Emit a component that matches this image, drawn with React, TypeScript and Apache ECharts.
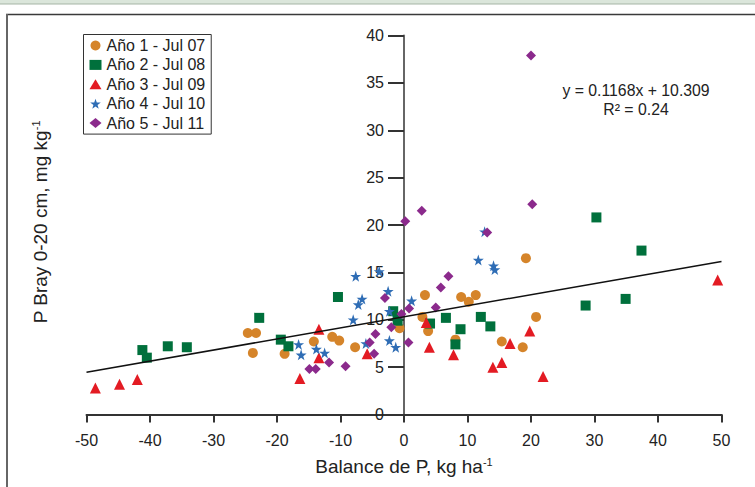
import React, { useEffect, useRef } from 'react';
import * as echarts from 'echarts';

const seriesNames = ['Año 1 - Jul 07', 'Año 2 - Jul 08', 'Año 3 - Jul 09', 'Año 4 - Jul 10', 'Año 5 - Jul 11'];

const ano1: number[][] = [
  [-24.6, 8.6], [-23.3, 8.6], [-23.8, 6.5], [-18.8, 6.4], [-14.2, 7.7], [-11.3, 8.2], [-10.2, 7.8],
  [-7.7, 7.1], [-0.7, 9.1], [2.9, 10.3], [3.3, 12.6], [3.8, 8.8], [8.1, 7.9], [9.0, 12.4], [10.2, 11.9],
  [11.3, 12.6], [15.4, 7.7], [18.7, 7.1], [19.2, 16.5], [20.8, 10.3],
];
const ano2: number[][] = [
  [-41.2, 6.8], [-40.5, 6.0], [-37.2, 7.2], [-34.2, 7.1], [-22.8, 10.2], [-19.4, 7.9], [-18.2, 7.2],
  [-10.4, 12.4], [-1.7, 10.9], [-1.0, 9.9], [4.1, 9.6], [6.6, 10.2], [8.9, 9.0], [8.1, 7.4], [12.1, 10.3],
  [13.6, 9.3], [28.6, 11.5], [30.3, 20.8], [34.9, 12.2], [37.4, 17.3],
];
const ano3: number[][] = [
  [-48.6, 2.8], [-44.8, 3.2], [-42.0, 3.7], [-16.4, 3.8], [-13.4, 9.0], [-13.4, 6.0], [-5.8, 6.4],
  [3.5, 9.7], [4.0, 7.1], [7.8, 6.3], [14.0, 5.0], [15.4, 5.5], [16.7, 7.5], [19.8, 8.8], [21.9, 4.0],
  [49.4, 14.2],
];
const ano4: number[][] = [
  [-16.6, 7.4], [-16.2, 6.3], [-13.8, 6.9], [-12.5, 6.5], [-8.0, 10.0], [-7.6, 14.6], [-7.2, 11.6],
  [-6.6, 12.2], [-6.0, 7.5], [-3.9, 15.1], [-2.5, 13.0], [-2.3, 10.9], [-2.3, 7.8], [-1.3, 7.1],
  [1.2, 12.0], [11.7, 16.3], [12.7, 19.3], [14.1, 15.7], [14.3, 15.3],
];
const ano5: number[][] = [
  [-14.9, 4.8], [-13.9, 4.8], [-11.8, 5.5], [-9.2, 5.1], [-5.4, 7.6], [-4.7, 6.4], [-4.5, 8.5],
  [-3.0, 12.3], [-2.0, 9.2], [-0.4, 10.6], [0.2, 20.4], [0.7, 7.6], [0.8, 11.2], [2.8, 21.5],
  [5.0, 11.3], [5.8, 13.4], [7.0, 14.6], [13.1, 19.2], [20.0, 37.9], [20.2, 22.2],
];

const slope = 0.1168;
const intercept = 10.309;
const xRange = [-50, 50];
const yRange = [0, 40];
const equationText = 'y = 0.1168x + 10.309';
const r2Text = 'R² = 0.24';

const FONT = '"Liberation Sans", Arial, sans-serif';
const STAR = 'path://M50,0 L61.8,35.1 L98.1,35.1 L68.8,56.7 L79.4,91 L50,70 L20.6,91 L31.2,56.7 L1.9,35.1 L38.2,35.1 Z';

const GRID_LEFT = 86.5;
const GRID_RIGHT = 33.5;
const CHART_W = 755;

export default function App() {
  const ref = useRef<HTMLDivElement>(null);
  useEffect(() => {
    const chart = echarts.init(ref.current!, null, { renderer: 'svg' });
    const trend = xRange.map((x) => [x, slope * x + intercept]);
    // place the y axis at x = 0 of the x scale
    const plotW = CHART_W - GRID_LEFT - GRID_RIGHT;
    const yAxisOffset = -((0 - xRange[0]) / (xRange[1] - xRange[0])) * plotW;
    const mk = (name: string, data: number[][], symbol: string, size: number, color: string) => ({
      name,
      type: 'scatter',
      data,
      symbol,
      symbolSize: size,
      itemStyle: { color, opacity: 1 },
      z: 3,
    });
    chart.setOption({
      animation: false,
      backgroundColor: '#ffffff',
      textStyle: { fontFamily: FONT },
      grid: { left: GRID_LEFT, right: GRID_RIGHT, top: 35.5, bottom: 72.5, containLabel: false },
      legend: {
        data: seriesNames,
        orient: 'vertical',
        left: 83.5,
        top: 34.5,
        padding: [3, 6, 3, 6],
        itemGap: 3.4,
        itemWidth: 12,
        itemHeight: 10,
        borderColor: '#333',
        borderWidth: 1,
        backgroundColor: '#fff',
        textStyle: { fontSize: 16, color: '#222', fontFamily: FONT, lineHeight: 16 },
      },
      xAxis: {
        type: 'value',
        min: xRange[0],
        max: xRange[1],
        interval: 10,
        splitLine: { show: false },
        axisLine: { onZero: false, lineStyle: { color: '#333', width: 2 } },
        axisTick: { length: 8, lineStyle: { color: '#333', width: 2 } },
        axisLabel: { margin: 18, fontSize: 16, color: '#222', fontFamily: FONT },
        name: '{a|Balance de P, kg ha}{s|-1}',
        nameLocation: 'middle',
        nameGap: 42,
        nameTextStyle: {
          rich: {
            a: { fontSize: 19, color: '#222', fontFamily: FONT, lineHeight: 20 },
            s: { fontSize: 11, color: '#222', fontFamily: FONT, verticalAlign: 'top', lineHeight: 20, padding: [0, 0, 8, 0] },
          },
        },
      },
      yAxis: {
        type: 'value',
        min: yRange[0],
        max: yRange[1],
        interval: 5,
        offset: yAxisOffset,
        splitLine: { show: false },
        axisLine: { onZero: false, lineStyle: { color: '#666', width: 2 } },
        axisTick: { length: 16, lineStyle: { color: '#333', width: 2 } },
        axisLabel: { margin: 20, fontSize: 16, color: '#222', fontFamily: FONT },
      },
      series: [
        mk(seriesNames[0], ano1, 'circle', 10, '#d5842a'),
        mk(seriesNames[1], ano2, 'rect', 10, '#00703c'),
        mk(seriesNames[2], ano3, 'triangle', 11, '#e31b23'),
        mk(seriesNames[3], ano4, STAR, 11, '#2f6db5'),
        mk(seriesNames[4], ano5, 'diamond', 10, '#8b2a8c'),
        {
          name: 'trend',
          type: 'line',
          data: trend,
          showSymbol: false,
          symbol: 'none',
          lineStyle: { color: '#111', width: 1.5 },
          z: 4,
          silent: true,
        },
      ],
      graphic: [
        { type: 'rect', left: 0, top: 0, shape: { x: 0, y: 0, width: 755, height: 4 }, style: { fill: '#dbe6db' }, silent: true },
        { type: 'line', shape: { x1: 0, y1: 4, x2: 755, y2: 4 }, style: { stroke: '#a5b5a5', lineWidth: 1 }, silent: true },
        { type: 'line', shape: { x1: 6, y1: 14.5, x2: 755, y2: 14.5 }, style: { stroke: '#3a3a3a', lineWidth: 1.5 }, silent: true },
        { type: 'line', shape: { x1: 7, y1: 14, x2: 7, y2: 487 }, style: { stroke: '#666', lineWidth: 2 }, silent: true },
        {
          type: 'text',
          x: 636,
          y: 90,
          style: { text: equationText, fontSize: 15.8, fill: '#222', fontFamily: FONT, align: 'center', verticalAlign: 'middle' },
        },
        {
          type: 'text',
          x: 636,
          y: 109,
          style: { text: r2Text, fontSize: 15.8, fill: '#222', fontFamily: FONT, align: 'center', verticalAlign: 'middle' },
        },
        {
          type: 'text',
          x: 40,
          y: 222,
          rotation: Math.PI / 2,
          style: {
            text: '{a|P Bray 0-20 cm, mg kg}{s|-1}',
            align: 'center',
            verticalAlign: 'middle',
            rich: {
              a: { fontSize: 19, fill: '#222', fontFamily: FONT, lineHeight: 20 },
              s: { fontSize: 11, fill: '#222', fontFamily: FONT, verticalAlign: 'top', lineHeight: 20 },
            },
          },
        },
      ],
    });
    return () => chart.dispose();
  }, []);
  return <div ref={ref} style={{ position: 'fixed', left: 0, top: 0, width: 755, height: 487, background: '#fff' }} />;
}
